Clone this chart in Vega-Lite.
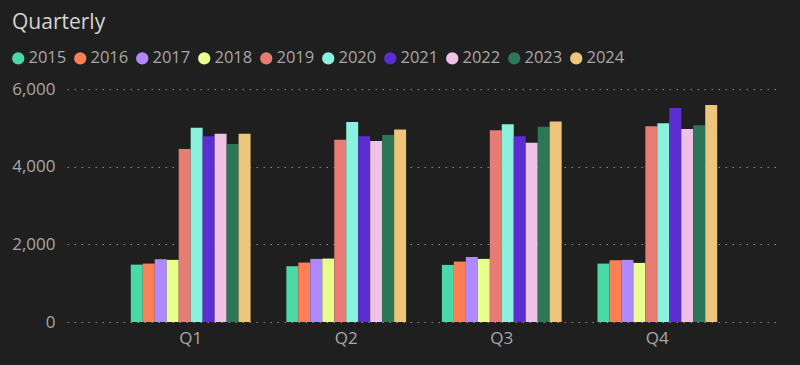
{
  "$schema": "https://vega.github.io/schema/vega-lite/v6.json",
  "autosize": {"type": "none"},
  "width": 714,
  "height": 233,
  "padding": {"left": 67, "top": 89, "right": 19, "bottom": 43},
  "background": "#1f1f1f",
  "title": {
    "text": "Quarterly",
    "anchor": "start",
    "frame": "group",
    "dx": -55,
    "offset": 17,
    "fontSize": 21,
    "font": "Open Sans",
    "fontWeight": "normal",
    "color": "#d4d4d4"
  },
  "data": {
    "values": [
      {"q": "Q1", "year": "2015", "v": 1478},
      {"q": "Q1", "year": "2016", "v": 1504},
      {"q": "Q1", "year": "2017", "v": 1617},
      {"q": "Q1", "year": "2018", "v": 1600},
      {"q": "Q1", "year": "2019", "v": 4455},
      {"q": "Q1", "year": "2020", "v": 5005},
      {"q": "Q1", "year": "2021", "v": 4781},
      {"q": "Q1", "year": "2022", "v": 4850},
      {"q": "Q1", "year": "2023", "v": 4584},
      {"q": "Q1", "year": "2024", "v": 4850},
      {"q": "Q2", "year": "2015", "v": 1436},
      {"q": "Q2", "year": "2016", "v": 1530},
      {"q": "Q2", "year": "2017", "v": 1625},
      {"q": "Q2", "year": "2018", "v": 1633},
      {"q": "Q2", "year": "2019", "v": 4696},
      {"q": "Q2", "year": "2020", "v": 5152},
      {"q": "Q2", "year": "2021", "v": 4781},
      {"q": "Q2", "year": "2022", "v": 4662},
      {"q": "Q2", "year": "2023", "v": 4816},
      {"q": "Q2", "year": "2024", "v": 4954},
      {"q": "Q3", "year": "2015", "v": 1470},
      {"q": "Q3", "year": "2016", "v": 1556},
      {"q": "Q3", "year": "2017", "v": 1677},
      {"q": "Q3", "year": "2018", "v": 1625},
      {"q": "Q3", "year": "2019", "v": 4936},
      {"q": "Q3", "year": "2020", "v": 5090},
      {"q": "Q3", "year": "2021", "v": 4781},
      {"q": "Q3", "year": "2022", "v": 4618},
      {"q": "Q3", "year": "2023", "v": 5031},
      {"q": "Q3", "year": "2024", "v": 5160},
      {"q": "Q4", "year": "2015", "v": 1504},
      {"q": "Q4", "year": "2016", "v": 1590},
      {"q": "Q4", "year": "2017", "v": 1600},
      {"q": "Q4", "year": "2018", "v": 1522},
      {"q": "Q4", "year": "2019", "v": 5039},
      {"q": "Q4", "year": "2020", "v": 5116},
      {"q": "Q4", "year": "2021", "v": 5511},
      {"q": "Q4", "year": "2022", "v": 4969},
      {"q": "Q4", "year": "2023", "v": 5064},
      {"q": "Q4", "year": "2024", "v": 5590}
    ]
  },
  "mark": {"type": "bar"},
  "encoding": {
    "x": {
      "field": "q",
      "type": "nominal",
      "scale": {"paddingInner": 0.23, "paddingOuter": 0.41},
      "axis": {
        "title": null,
        "labelAngle": 0,
        "domain": false,
        "ticks": false,
        "labelPadding": 8,
        "labelFontSize": 17,
        "labelFont": "Open Sans",
        "labelColor": "#a8a8a8"
      }
    },
    "xOffset": {
      "field": "year",
      "type": "nominal",
      "scale": {"paddingInner": 0, "paddingOuter": 0}
    },
    "y": {
      "field": "v",
      "type": "quantitative",
      "scale": {"domain": [0, 6000]},
      "axis": {
        "title": null,
        "values": [0, 2000, 4000, 6000],
        "format": ",.0f",
        "domain": false,
        "ticks": false,
        "labelPadding": 12,
        "labelFontSize": 17,
        "labelFont": "Open Sans",
        "labelColor": "#a8a8a8",
        "grid": true,
        "gridColor": "#8a8a8a",
        "gridDash": [1.5, 5.5],
        "gridWidth": 1.2
      }
    },
    "color": {
      "field": "year",
      "type": "nominal",
      "scale": {
        "domain": ["2015", "2016", "2017", "2018", "2019", "2020", "2021", "2022", "2023", "2024"],
        "range": ["#4BD8A7", "#FF7F55", "#B088FF", "#E8FF8F", "#E67C73", "#8AF2DC", "#5A2ED0", "#EFC1E6", "#2E7658", "#EDC57B"]
      },
      "legend": {
        "title": null,
        "orient": "none",
        "legendX": -57,
        "legendY": -39,
        "direction": "horizontal",
        "symbolType": "circle",
        "symbolSize": 150,
        "symbolStrokeWidth": 0,
        "labelFontSize": 16.5,
        "labelFont": "Open Sans",
        "labelColor": "#a8a8a8",
        "labelOffset": 2,
        "columnPadding": 5
      }
    }
  },
  "config": {
    "view": {"stroke": null}
  }
}
